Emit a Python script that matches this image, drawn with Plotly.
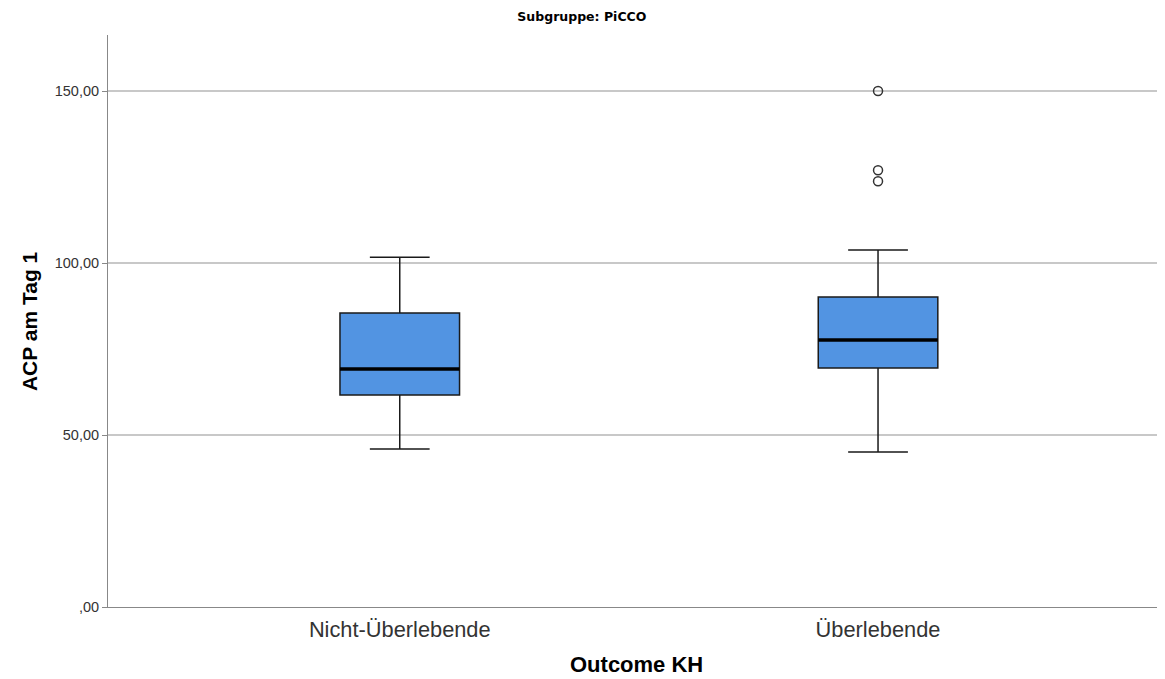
import plotly.graph_objects as go

categories = ["Nicht-Überlebende", "Überlebende"]
lower_whisker = [45.9, 45.1]
q1 = [61.6, 69.5]
median = [69.2, 77.6]
q3 = [85.5, 90.1]
upper_whisker = [101.7, 103.8]
outlier_group = [1, 1, 1]
outlier_values = [150.0, 127.0, 123.8]
ytick_vals = [0, 50, 100, 150]
ytick_text = [",00", "50,00", "100,00", "150,00"]

xpos = list(range(len(categories)))
box_w = 0.25

fig = go.Figure()
fig.add_trace(go.Box(
    x=xpos, q1=q1, median=median, q3=q3,
    lowerfence=lower_whisker, upperfence=upper_whisker,
    width=box_w, whiskerwidth=0.5,
    fillcolor="#5294E2", line=dict(color="#1a1a1a", width=1.5),
    boxpoints=False, showlegend=False, hoverinfo="skip",
))
fig.add_trace(go.Scatter(
    x=[xpos[g] for g in outlier_group], y=outlier_values, mode="markers",
    marker=dict(symbol="circle-open", size=9, color="#333333", line=dict(width=1.5)),
    showlegend=False, hoverinfo="skip",
))
for i, m in enumerate(median):
    fig.add_shape(type="line", xref="x", yref="y",
                  x0=xpos[i] - box_w / 2, x1=xpos[i] + box_w / 2, y0=m, y1=m,
                  line=dict(color="black", width=3.5), layer="above")

fig.update_layout(
    width=1157, height=671,
    margin=dict(l=100, r=0, t=27, b=72),
    paper_bgcolor="white", plot_bgcolor="white",
    font=dict(family="Liberation Sans, Arial, sans-serif", color="#222222"),
    title=dict(text="<b>Subgruppe: PiCCO</b>", x=0.496, xanchor="center", y=0.987, yanchor="middle",
               font=dict(family="DejaVu Sans, sans-serif", size=12.5, color="black")),
    xaxis=dict(range=[-0.61, 1.6], tickvals=xpos, ticktext=categories,
               showgrid=False, zeroline=False, showline=True, linecolor="#888888", linewidth=1,
               ticks="", ticklabelstandoff=3, tickfont=dict(size=21.8, color="#333333")),
    yaxis=dict(range=[0, 166.3], tickvals=ytick_vals, ticktext=ytick_text,
               showgrid=True, gridcolor="#c8c8c8", gridwidth=1.5, zeroline=False,
               showline=True, linecolor="#888888", linewidth=1,
               ticks="outside", ticklen=5, tickcolor="#888888",
               tickfont=dict(size=14.5, color="#333333")),
    annotations=[
        dict(text="<b>Outcome KH</b>", xref="paper", yref="paper", x=0.5, y=-0.101,
             xanchor="center", yanchor="middle", showarrow=False,
             font=dict(size=22, color="black")),
        dict(text="<b>ACP am Tag 1</b>", xref="paper", yref="paper", x=-0.0747, y=0.5,
             xanchor="center", yanchor="middle", showarrow=False, textangle=-90,
             font=dict(size=21, color="black")),
    ],
)

fig.write_html("out.html")
